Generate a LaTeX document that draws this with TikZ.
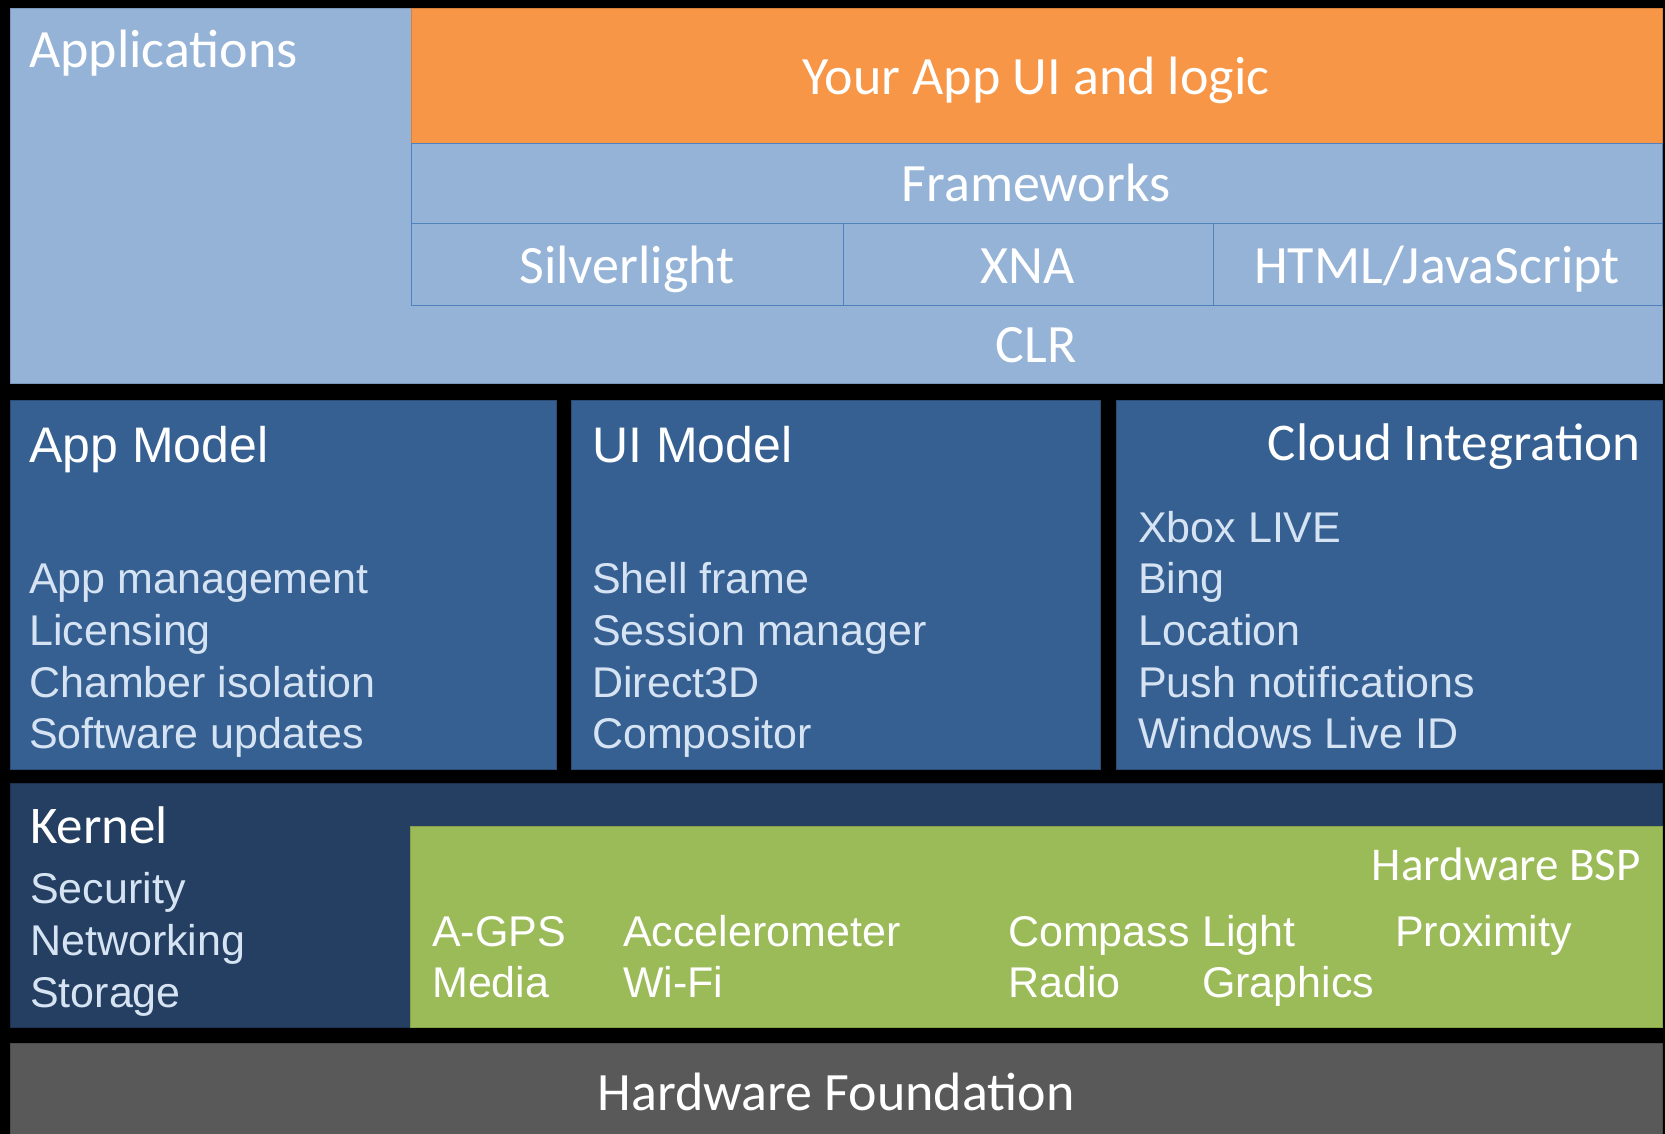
\documentclass[tikz,border=0pt]{standalone}
\usepackage{fontspec}
\setmainfont{Carlito}
\newfontfamily\itemfont{Liberation Sans}
\definecolor{appblue}{HTML}{95B3D7}
\definecolor{appedge}{HTML}{7C98BC}
\definecolor{subedge}{HTML}{4F81BD}
\definecolor{ownorange}{HTML}{F79646}
\definecolor{orangeedge}{HTML}{D9813A}
\definecolor{midblue}{HTML}{366092}
\definecolor{midedge}{HTML}{2A4C75}
\definecolor{kernblue}{HTML}{243F61}
\definecolor{kernedge}{HTML}{1C3250}
\definecolor{bspgreen}{HTML}{9BBB59}
\definecolor{greenedge}{HTML}{86A348}
\definecolor{founddark}{HTML}{595959}
\definecolor{itemtext}{HTML}{D6E3F3}
\tikzset{
  layer/.style={line width=1pt},
  head/.style={inner sep=0pt, text=white, font=\fontsize{54}{60}\selectfont},
  headsmall/.style={inner sep=0pt, text=white, font=\fontsize{47}{52}\selectfont},
  headarial/.style={inner sep=0pt, text=white, font=\itemfont\fontsize{50}{55}\selectfont},
  entry/.style={inner sep=0pt, anchor=base west, text=itemtext, font=\itemfont\fontsize{43}{48}\selectfont},
  hwentry/.style={entry, text=white},
}
\begin{document}
\begin{tikzpicture}[x=1pt, y=-1pt]
% black backdrop
\fill[black] (0,0) rectangle (1665,1134);
\useasboundingbox (0,0) rectangle (1665,1134);

% ---- application layer ----
\draw[layer, fill=appblue, draw=appedge] (10,9) rectangle (1662,383);
\draw[layer, fill=ownorange, draw=orangeedge] (411,9) rectangle (1662,144);
\draw[layer, draw=subedge] (411,144) rectangle (1662,224);
\draw[layer, draw=subedge] (411,224) rectangle (843,305);
\draw[layer, draw=subedge] (843,224) rectangle (1213,305);
\draw[layer, draw=subedge] (1213,224) rectangle (1662,305);

\node[head, anchor=base west] (apps) at (29,68) {Applications};
\node[head, anchor=base] (yourapp) at (1036,95) {Your App UI and logic};
\node[head, anchor=base] (frameworks) at (1036,202) {Frameworks};
\node[head, anchor=base] (silverlight) at (627,283) {Silverlight};
\node[head, anchor=base] (xna) at (1028,283) {XNA};
\node[head, anchor=base] (html) at (1437,283) {HTML/JavaScript};
\node[head, anchor=base] (clr) at (1036,362) {CLR};

% ---- model layer ----
\draw[layer, fill=midblue, draw=midedge] (10,400) rectangle (556,769);
\draw[layer, fill=midblue, draw=midedge] (571,400) rectangle (1100,769);
\draw[layer, fill=midblue, draw=midedge] (1116,400) rectangle (1662,769);

\node[headarial, anchor=base west] (appmodel) at (29,462) {App Model};
\node[entry] (am1) at (29,593) {App management};
\node[entry] (am2) at (29,645) {Licensing};
\node[entry] (am3) at (29,697) {Chamber isolation};
\node[entry] (am4) at (29,748) {Software updates};

\node[headarial, anchor=base west] (uimodel) at (592,462) {UI Model};
\node[entry] (ui1) at (592,593) {Shell frame};
\node[entry] (ui2) at (592,645) {Session manager};
\node[entry] (ui3) at (592,697) {Direct3D};
\node[entry] (ui4) at (592,748) {Compositor};

\node[head, anchor=base east, font=\fontsize{53}{58}\selectfont] (cloud) at (1641,460) {Cloud Integration};
\node[entry] (cl0) at (1138,542) {Xbox LIVE};
\node[entry] (cl1) at (1138,593) {Bing};
\node[entry] (cl2) at (1138,645) {Location};
\node[entry] (cl3) at (1138,697) {Push notifications};
\node[entry] (cl4) at (1138,748) {Windows Live ID};

% ---- kernel layer ----
\draw[layer, fill=kernblue, draw=kernedge] (10,783) rectangle (1662,1027);
\draw[layer, fill=bspgreen, draw=greenedge] (410,826) rectangle (1662,1027);

\node[head, anchor=base west, font=\fontsize{53}{58}\selectfont] (kernel) at (30,843) {Kernel};
\node[entry] (k1) at (30,903) {Security};
\node[entry] (k2) at (30,955) {Networking};
\node[entry] (k3) at (30,1007) {Storage};

\node[headsmall, anchor=base east] (bsp) at (1641,880) {Hardware BSP};
\node[hwentry] (hw1) at (432,946) {A-GPS};
\node[hwentry] (hw2) at (432,997) {Media};
\node[hwentry] (hw3) at (623,946) {Accelerometer};
\node[hwentry] (hw4) at (623,997) {Wi-Fi};
\node[hwentry] (hw5) at (1008,946) {Compass};
\node[hwentry] (hw6) at (1008,997) {Radio};
\node[hwentry] (hw7) at (1202,946) {Light};
\node[hwentry] (hw8) at (1202,997) {Graphics};
\node[hwentry] (hw9) at (1395,946) {Proximity};

% ---- hardware foundation ----
\draw[layer, fill=founddark, draw=black!70] (10,1043) rectangle (1662,1140);
\node[head, anchor=base] (foundation) at (836,1110) {Hardware Foundation};
\end{tikzpicture}
\end{document}
